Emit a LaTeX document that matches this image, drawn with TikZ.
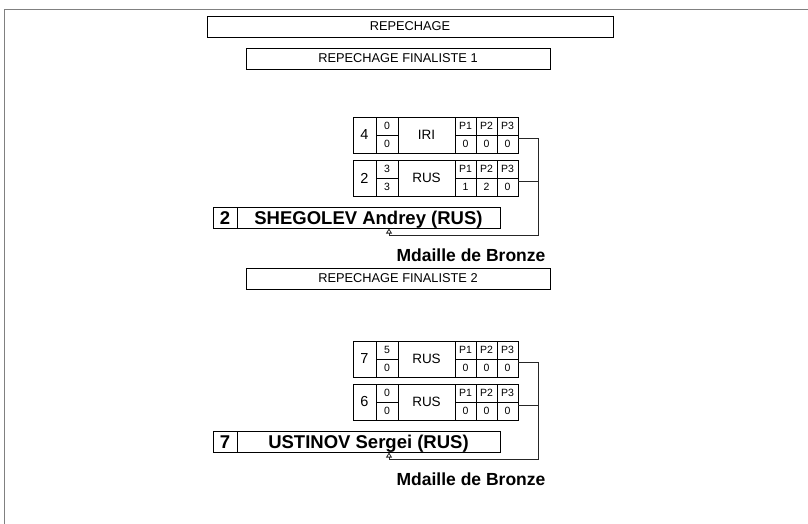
\documentclass[tikz,border=0pt]{standalone}
\usepackage{fontspec}
\setmainfont{Liberation Sans}
\usetikzlibrary{arrows.meta,positioning}

\tikzset{
  box/.style={draw, line width=0.8pt, inner sep=0pt, outer sep=0pt},
  title/.style={box, minimum height=21pt, font=\fontsize{12.8}{14}\selectfont},
  cell/.style={box, minimum height=36pt, anchor=north west},
  small/.style={inner sep=0pt, font=\fontsize{10.5}{11}\selectfont},
  plabel/.style={inner sep=0pt, font=\fontsize{10.5}{11}\selectfont},
  winner/.style={box, minimum height=21.5pt, text height=13pt, text depth=0pt,
    font=\fontsize{18.5}{20}\bfseries\selectfont},
  conn/.style={line width=0.8pt, draw=black!85},
  medal/.style={font=\fontsize{17.5}{19}\bfseries\selectfont},
}

\begin{document}
\begin{tikzpicture}[x=1pt,y=-1pt]
  \useasboundingbox (0,0) rectangle (808,524);
  % page frame
  \draw[gray, line width=1.6pt] (4.5,524) -- (4.5,9.5) -- (808,9.5);

  \node[title, minimum width=406pt] (rep) at (410,26.5) {REPECHAGE};
  \foreach \s/\dy in {1/0,2/220}{
    \node[title, minimum width=304pt] (fin\s) at (398,58.5+\dy) {REPECHAGE FINALISTE \s};
  }

  % match rows: number, score, nation, P1-P3
  \foreach \m/\ty/\num/\sa/\sb/\nat/\pa/\pb/\pc in {1a/117/4/0/0/IRI/0/0/0, 1b/160/2/3/3/RUS/1/2/0, 2a/341/7/5/0/RUS/0/0/0, 2b/384/6/0/0/RUS/0/0/0}{
    \node[cell, minimum width=23pt, font=\fontsize{14.5}{16}\selectfont] (m\m-num) at (353,\ty) {\num};
    \node[cell, minimum width=22pt, right=0pt of m\m-num] (m\m-sc) {};
    \node[cell, minimum width=57pt, right=0pt of m\m-sc, font=\fontsize{13.5}{15}\selectfont] (m\m-nat) {\nat};
    \node[cell, minimum width=21pt, right=0pt of m\m-nat] (m\m-p1) {};
    \node[cell, minimum width=21pt, right=0pt of m\m-p1] (m\m-p2) {};
    \node[cell, minimum width=21pt, right=0pt of m\m-p2] (m\m-p3) {};
    \draw[line width=0.8pt] (m\m-sc.west) -- (m\m-sc.east);
    \draw[line width=0.8pt] (m\m-p1.west) -- (m\m-p3.east);
    \node[small] (m\m-sa) at ([yshift=9pt]m\m-sc.center) {\sa};
    \node[small] (m\m-sb) at ([yshift=-9pt]m\m-sc.center) {\sb};
    \node[plabel] (m\m-h1) at ([yshift=9pt]m\m-p1.center) {P1};
    \node[plabel] (m\m-h2) at ([yshift=9pt]m\m-p2.center) {P2};
    \node[plabel] (m\m-h3) at ([yshift=9pt]m\m-p3.center) {P3};
    \node[plabel] (m\m-v1) at ([yshift=-9pt]m\m-p1.center) {\pa};
    \node[plabel] (m\m-v2) at ([yshift=-9pt]m\m-p2.center) {\pb};
    \node[plabel] (m\m-v3) at ([yshift=-9pt]m\m-p3.center) {\pc};
  }

  % winners and bronze medal
  \foreach \s/\dy/\num/\who in {1/0/2/SHEGOLEV Andrey (RUS), 2/224/7/USTINOV Sergei (RUS)}{
    \node[winner, anchor=north west, minimum width=24pt] (w\s-num) at (213,207+\dy) {\num};
    \node[winner, minimum width=263pt, right=0pt of w\s-num] (w\s-name) {\who};
    \coordinate (w\s-turn) at (538,235.5+\dy);
    \coordinate (w\s-in) at (389,228.5+\dy);
    \draw[conn, -{Triangle[open,length=5pt,width=6pt]}] ([yshift=-3pt]m\s a-p3.east) -| (w\s-turn) -| (w\s-in);
    \draw[conn] ([yshift=-3pt]m\s b-p3.east) -| (w\s-turn);
    \node[medal] (w\s-medal) at (471,255+\dy) {Mdaille de Bronze};
  }
\end{tikzpicture}
\end{document}
